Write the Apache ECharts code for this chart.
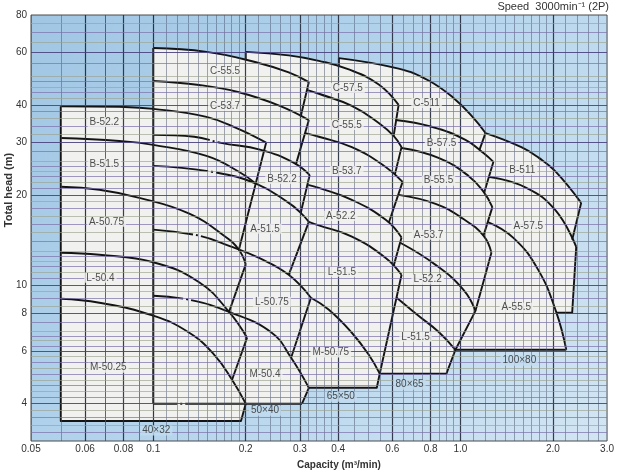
<!DOCTYPE html>
<html><head><meta charset="utf-8">
<script src="https://cdn.jsdelivr.net/npm/echarts@6/dist/echarts.min.js"></script>
<style>html,body{margin:0;padding:0;background:#fff}#c{width:617px;height:472px}</style>
</head><body><div id="c"></div>
<script>
// ---- axis ticks ----
const xTickValues = [0.04, 0.06, 0.08, 0.1, 0.2, 0.3, 0.4, 0.6, 0.8, 1.0, 2.0, 3.0];
const xTickLabels = ['0.05', '0.06', '0.08', '0.1', '0.2', '0.3', '0.4', '0.6', '0.8', '1.0', '2.0', '3.0'];
const yTickValues = [4, 6, 8, 10, 20, 30, 40, 60, 80];

// ---- graph paper lines ----
const xGridMajor = [0.06, 0.08, 0.1, 0.2, 0.3, 0.4, 0.6, 0.8, 1.0, 2.0];
const xGridMinor = [0.045, 0.05, 0.055, 0.065, 0.07, 0.075, 0.085, 0.09, 0.095,
  0.11, 0.12, 0.13, 0.14, 0.15, 0.16, 0.17, 0.18, 0.19,
  0.22, 0.24, 0.26, 0.28, 0.32, 0.34, 0.36, 0.38,
  0.45, 0.5, 0.55, 0.65, 0.7, 0.75, 0.85, 0.9, 0.95,
  1.1, 1.2, 1.3, 1.4, 1.5, 1.6, 1.7, 1.8, 1.9, 2.2, 2.4, 2.6, 2.8];
const yGridMajor = [4, 6, 8, 10, 20, 30, 40, 60];
const yGridMinor = [3.2, 3.4, 3.6, 3.8, 4.2, 4.4, 4.6, 4.8, 5, 5.25, 5.5, 5.75, 6.25, 6.5, 6.75, 7, 7.5, 8.5, 9, 9.5,
  10.5, 11, 11.5, 12, 12.5, 13, 14, 15, 16, 17, 18, 19, 21, 22, 23, 24, 25, 26, 28, 32, 34, 36, 38,
  42, 44, 46, 48, 50, 55, 65, 70, 75];

// ---- pump performance curves (capacity m3/min, head m) ----
const curves40x32 = [
  [[0.05, 39.6], [0.0775, 39.4], [0.1, 38.8], [0.149, 36.5], [0.19, 33.2], [0.233, 29.9]],
  [[0.05, 31.0], [0.0775, 30.3], [0.1, 29.4], [0.149, 27.0], [0.19, 23.9], [0.216, 21.8]],
  [[0.05, 21.3], [0.0668, 20.8], [0.0901, 19.55], [0.131, 17.3], [0.17, 14.6], [0.19, 13.1], [0.2, 11.7]],
  [[0.05, 12.8], [0.0668, 12.6], [0.1, 11.9], [0.141, 10.2], [0.1765, 8.12], [0.202, 6.65]],
  [[0.05, 8.98], [0.0668, 8.71], [0.1, 7.88], [0.131, 6.91], [0.158, 5.83], [0.1805, 4.81], [0.2, 4.0]]
];
const curves50x40 = [
  [[0.1, 62.0], [0.149, 60.2], [0.216, 55.6], [0.276, 51.4], [0.321, 47.7]],
  [[0.1, 48.1], [0.141, 46.65], [0.19, 44.1], [0.257, 39.8], [0.321, 35.6]],
  [[0.1, 31.75], [0.136, 31.3], [0.166, 29.85], [0.224, 28.3], [0.287, 25.6], [0.323, 23.3]],
  [[0.1, 25.0], [0.155, 23.9], [0.216, 21.8], [0.276, 18.8], [0.302, 17.4], [0.321, 16.25]],
  [[0.1, 15.3], [0.141, 14.6], [0.1765, 13.5], [0.221, 12.3], [0.276, 10.8], [0.326, 9.05]],
  [[0.1, 9.19], [0.131, 8.91], [0.1765, 8.12], [0.243, 6.91], [0.281, 5.7], [0.321, 4.52]]
];
const curves65x50 = [
  [[0.2, 60.2], [0.276, 58.6], [0.346, 56.2], [0.433, 52.6], [0.542, 46.8], [0.629, 40.0]],
  [[0.316, 44.9], [0.346, 43.6], [0.443, 39.7], [0.542, 34.8], [0.606, 31.5], [0.643, 28.9]],
  [[0.312, 32.2], [0.346, 31.3], [0.443, 28.9], [0.571, 24.8], [0.648, 22.1]],
  [[0.319, 21.6], [0.346, 21.1], [0.443, 19.25], [0.571, 16.5], [0.643, 14.4]],
  [[0.321, 16.25], [0.346, 15.8], [0.443, 14.5], [0.571, 12.3], [0.643, 10.8]],
  [[0.326, 9.05], [0.373, 8.25], [0.443, 6.91], [0.503, 5.83], [0.546, 5.04]]
];
const curves80x65 = [
  [[0.402, 57.4], [0.629, 52.9], [0.787, 48.3], [0.949, 42.2], [1.102, 36.2], [1.206, 32.2]],
  [[0.615, 35.6], [0.805, 33.8], [1.038, 30.55], [1.188, 27.6], [1.28, 25.8]],
  [[0.643, 28.7], [0.848, 26.6], [1.062, 23.15], [1.188, 20.5], [1.27, 18.2]],
  [[0.629, 20.0], [0.83, 18.66], [1.023, 16.6], [1.188, 14.6], [1.261, 12.8]],
  [[0.639, 13.8], [0.83, 11.66], [1.023, 9.62], [1.119, 8.18]],
  [[0.62, 9.05], [0.73, 7.88], [0.848, 6.96], [0.963, 6.06]]
];
const curves100x80 = [
  [[1.206, 32.2], [1.578, 28.9], [1.8, 26.6], [2.034, 24.0], [2.471, 18.8]],
  [[1.233, 23.0], [1.626, 21.2], [2.034, 17.8], [2.381, 13.4]],
  [[1.224, 16.25], [1.487, 14.36], [1.791, 11.22], [2.05, 8.1], [2.21, 6.06]]
];

// ---- frame boundaries (straight segments) ----
const edges40x32 = [
  [[0.233, 29.9], [0.19, 13.1]],
  [[0.2, 11.7], [0.1765, 8.12]],
  [[0.202, 6.65], [0.1805, 4.81]],
  [[0.2, 4.0], [0.193, 3.5], [0.05, 3.5], [0.05, 39.6]]
];
const edges50x40 = [
  [[0.1, 4.0], [0.1, 62.0]],
  [[0.321, 47.7], [0.302, 36.6]],
  [[0.321, 35.6], [0.291, 25.2]],
  [[0.323, 23.3], [0.302, 17.4]],
  [[0.321, 16.25], [0.276, 10.8]],
  [[0.326, 9.05], [0.281, 5.7]],
  [[0.321, 4.52], [0.305, 4.0]]
];
const bottom50x40 = [[0.1, 4.0], [0.305, 4.0]];
const edges65x50 = [
  [[0.2, 56.5], [0.2, 60.2]],
  [[0.629, 40.0], [0.606, 31.5]],
  [[0.643, 28.9], [0.611, 23.3]],
  [[0.648, 22.1], [0.584, 16.1]],
  [[0.643, 14.4], [0.606, 11.57]],
  [[0.643, 10.8], [0.546, 5.04], [0.534, 4.52], [0.321, 4.52]]
];
const edges80x65 = [
  [[0.402, 54.2], [0.402, 57.4]],
  [[1.206, 32.2], [1.153, 28.3]],
  [[1.28, 25.8], [1.197, 20.5]],
  [[1.27, 18.2], [1.188, 14.6]],
  [[1.261, 12.8], [1.119, 8.18], [0.963, 6.06], [0.9, 5.04], [0.546, 5.04]]
];
const edges100x80 = [
  [[2.471, 18.8], [2.31, 14.14]],
  [[2.381, 13.4], [2.31, 8.06], [2.05, 8.06]],
  [[2.21, 6.06], [0.963, 6.06]]
];

// ---- shaded frame areas ----
const fill40x32 = [[0.05, 3.5], [0.05, 39.6], [0.0775, 39.4], [0.1, 38.8], [0.149, 36.5], [0.19, 33.2], [0.233, 29.9],
  [0.19, 13.1], [0.2, 11.7], [0.1765, 8.12], [0.202, 6.65], [0.1805, 4.81], [0.2, 4.0], [0.193, 3.5]];
const fill50x40 = [[0.1, 4.0], [0.1, 62.0], [0.149, 60.2], [0.216, 55.6], [0.276, 51.4], [0.321, 47.7], [0.302, 36.6],
  [0.321, 35.6], [0.291, 25.2], [0.323, 23.3], [0.302, 17.4], [0.321, 16.25], [0.276, 10.8], [0.326, 9.05],
  [0.281, 5.7], [0.321, 4.52], [0.305, 4.0]];
const fill65x50 = [[0.2, 60.2], [0.276, 58.6], [0.346, 56.2], [0.433, 52.6], [0.542, 46.8], [0.629, 40.0], [0.606, 31.5],
  [0.643, 28.9], [0.611, 23.3], [0.648, 22.1], [0.584, 16.1], [0.643, 14.4], [0.606, 11.57], [0.643, 10.8],
  [0.546, 5.04], [0.534, 4.52], [0.281, 4.52], [0.276, 51.4], [0.216, 55.6], [0.2, 56.5]];
const fill80x65 = [[0.402, 57.4], [0.629, 52.9], [0.787, 48.3], [0.949, 42.2], [1.102, 36.2], [1.206, 32.2], [1.153, 28.3],
  [1.188, 27.6], [1.28, 25.8], [1.197, 20.5], [1.27, 18.2], [1.188, 14.6], [1.261, 12.8], [1.119, 8.18],
  [0.963, 6.06], [0.9, 5.04], [0.546, 5.04], [0.562, 44.6], [0.542, 46.8], [0.433, 52.6], [0.402, 54.2]];
const fill100x80 = [[1.206, 32.2], [1.578, 28.9], [1.8, 26.6], [2.034, 24.0], [2.471, 18.8], [2.31, 14.14], [2.381, 13.4],
  [2.31, 8.06], [2.05, 8.06], [2.21, 6.06], [0.963, 6.06], [1.11, 8.18], [1.127, 28.3]];

// ---- labels ----
const curveLabels = [
  ['B-52.2', 0.0693, 35.1], ['B-51.5', 0.0693, 25.4], ['A-50.75', 0.0704, 16.25], ['L-50.4', 0.0673, 10.55], ['M-50.25', 0.0714, 5.28],
  ['C-55.5', 0.1713, 52.0], ['C-53.7', 0.1713, 39.7], ['B-52.2', 0.2624, 22.6], ['A-51.5', 0.231, 15.4], ['L-50.75', 0.2434, 8.77], ['M-50.4', 0.231, 5.0],
  ['C-57.5', 0.4297, 45.6], ['C-55.5', 0.4265, 34.3], ['B-53.7', 0.4265, 24.06], ['A-52.2', 0.4079, 17.0], ['L-51.5', 0.4109, 11.05], ['M-50.75', 0.3784, 5.93],
  ['C-511', 0.7756, 40.6], ['B-57.5', 0.8675, 29.85], ['B-55.5', 0.8483, 22.3], ['A-53.7', 0.7873, 14.7], ['L-52.2', 0.7814, 10.4], ['L-51.5', 0.7141, 6.7],
  ['B-511', 1.59, 24.25], ['A-57.5', 1.663, 15.75], ['A-55.5', 1.52, 8.38]
];
const frameLabels = [['40×32', 0.1023, 3.25], ['50×40', 0.231, 3.79], ['65×50', 0.4079, 4.22], ['80×65', 0.683, 4.63], ['100×80', 1.555, 5.57]];

// ===== build chart =====
const FONT = '"Liberation Sans", Arial, sans-serif';
const LINE = '#141414';
const fills = [fill40x32, fill50x40, fill65x50, fill80x65, fill100x80];
const series = [];

series.push({
  type: 'custom', coordinateSystem: 'cartesian2d', z: 1, silent: true,
  data: fills.map(p => p[0]),
  renderItem: function (params, api) {
    const poly = fills[params.dataIndex];
    return { type: 'polygon', shape: { points: poly.map(p => api.coord(p)) }, style: { fill: '#f1f1ef' } };
  }
});

const gridLineData = [];
xGridMinor.forEach(v => gridLineData.push({ xAxis: v, lineStyle: { color: '#46506a', width: 0.7, type: 'solid', opacity: 0.7 } }));
xGridMajor.forEach(v => gridLineData.push({ xAxis: v, lineStyle: { color: '#242a3c', width: 1.2, type: 'solid', opacity: 0.9 } }));
yGridMinor.forEach((v, i) => gridLineData.push({ yAxis: v, lineStyle: (i % 2) ? { color: '#9aa08c', width: 0.8, type: 'solid', opacity: 0.8 } : { color: '#7d72aa', width: 0.9, type: 'solid', opacity: 0.8 } }));
yGridMajor.forEach(v => gridLineData.push({ yAxis: v, lineStyle: { color: '#4a4280', width: 1.2, type: 'solid', opacity: 0.9 } }));
series.push({
  type: 'line', data: [], z: 2, silent: true, symbol: 'none',
  markLine: { silent: true, symbol: ['none', 'none'], label: { show: false }, animation: false,
    lineStyle: { type: 'solid' }, emphasis: { disabled: true }, data: gridLineData }
});

function addLine(pts, smooth, dash) {
  series.push({
    type: 'line', data: pts, smooth: smooth ? 0.45 : false,
    symbol: 'none', silent: true, z: 4,
    lineStyle: { color: LINE, width: 1.9, type: dash ? [dash, 3, 2, 3, 4000] : 'solid', join: 'round' }
  });
}
const dash50x40 = [0, 0, 57, 55, 40, 30];
curves40x32.forEach(c => addLine(c, true));
curves50x40.forEach((c, i) => addLine(c, true, dash50x40[i]));
curves65x50.forEach(c => addLine(c, true));
curves80x65.forEach(c => addLine(c, true));
curves100x80.forEach(c => addLine(c, true));
[edges40x32, edges50x40, edges65x50, edges80x65, edges100x80].forEach(g => g.forEach(s => addLine(s, false)));
addLine(bottom50x40, false, 24);

series.push({
  type: 'scatter', z: 6, silent: true, symbolSize: 1, itemStyle: { color: 'rgba(0,0,0,0)' },
  data: curveLabels.map(l => ({ name: l[0], value: [l[1], l[2]] })),
  label: { show: true, position: 'inside', formatter: '{b}', color: '#262626', fontSize: 10, fontFamily: FONT,
    backgroundColor: '#f1f1ef', padding: [0, 2] }
});
series.push({
  type: 'scatter', z: 6, silent: true, symbolSize: 1, itemStyle: { color: 'rgba(0,0,0,0)' },
  data: frameLabels.map(l => ({ name: l[0], value: [l[1], l[2]] })),
  label: { show: true, position: 'inside', formatter: '{b}', color: '#262626', fontSize: 10, fontFamily: FONT,
    backgroundColor: '#c2dcef', padding: [0, 2] }
});

const chart = echarts.init(document.getElementById('c'), null, { renderer: 'canvas' });
chart.setOption({
  animation: false,
  backgroundColor: '#ffffff',
  grid: {
    left: 31, right: 8, top: 15, bottom: 31, show: true, borderColor: '#4a4a4a', borderWidth: 1,
    backgroundColor: new echarts.graphic.LinearGradient(0, 0, 1, 1, [
      { offset: 0, color: '#a0c6e4' }, { offset: 0.5, color: '#b6d5ed' }, { offset: 1, color: '#d2e5f3' }])
  },
  xAxis: {
    type: 'log', logBase: 10, min: 0.04, max: 3,
    axisLine: { show: false }, axisTick: { show: false }, splitLine: { show: false },
    axisLabel: {
      customValues: xTickValues, color: '#333', fontSize: 10, fontFamily: FONT, margin: 3,
      formatter: v => { const i = xTickValues.findIndex(t => Math.abs(t - v) < t * 1e-4); return i >= 0 ? xTickLabels[i] : ''; }
    }
  },
  yAxis: {
    type: 'log', logBase: 10, min: 3, max: 80,
    axisLine: { show: false }, axisTick: { show: false }, splitLine: { show: false },
    axisLabel: {
      customValues: yTickValues, color: '#333', fontSize: 10, fontFamily: FONT, margin: 4,
      formatter: v => String(Math.round(v))
    }
  },
  graphic: [
    { type: 'text', x: 609, y: 7, style: { text: 'Speed  3000min\u207B\u00B9 (2P)', align: 'right', verticalAlign: 'middle', fontSize: 11, fontFamily: FONT, fill: '#333' } },
    { type: 'text', x: 339, y: 465, style: { text: 'Capacity (m\u00B3/min)', align: 'center', verticalAlign: 'middle', fontSize: 10, fontWeight: 'bold', fontFamily: FONT, fill: '#333' } },
    { type: 'text', x: 9, y: 190, rotation: Math.PI / 2, style: { text: 'Total head (m)', align: 'center', verticalAlign: 'middle', fontSize: 11, fontWeight: 'bold', fontFamily: FONT, fill: '#333' } }
  ],
  series: series
});
</script>
</body></html>
